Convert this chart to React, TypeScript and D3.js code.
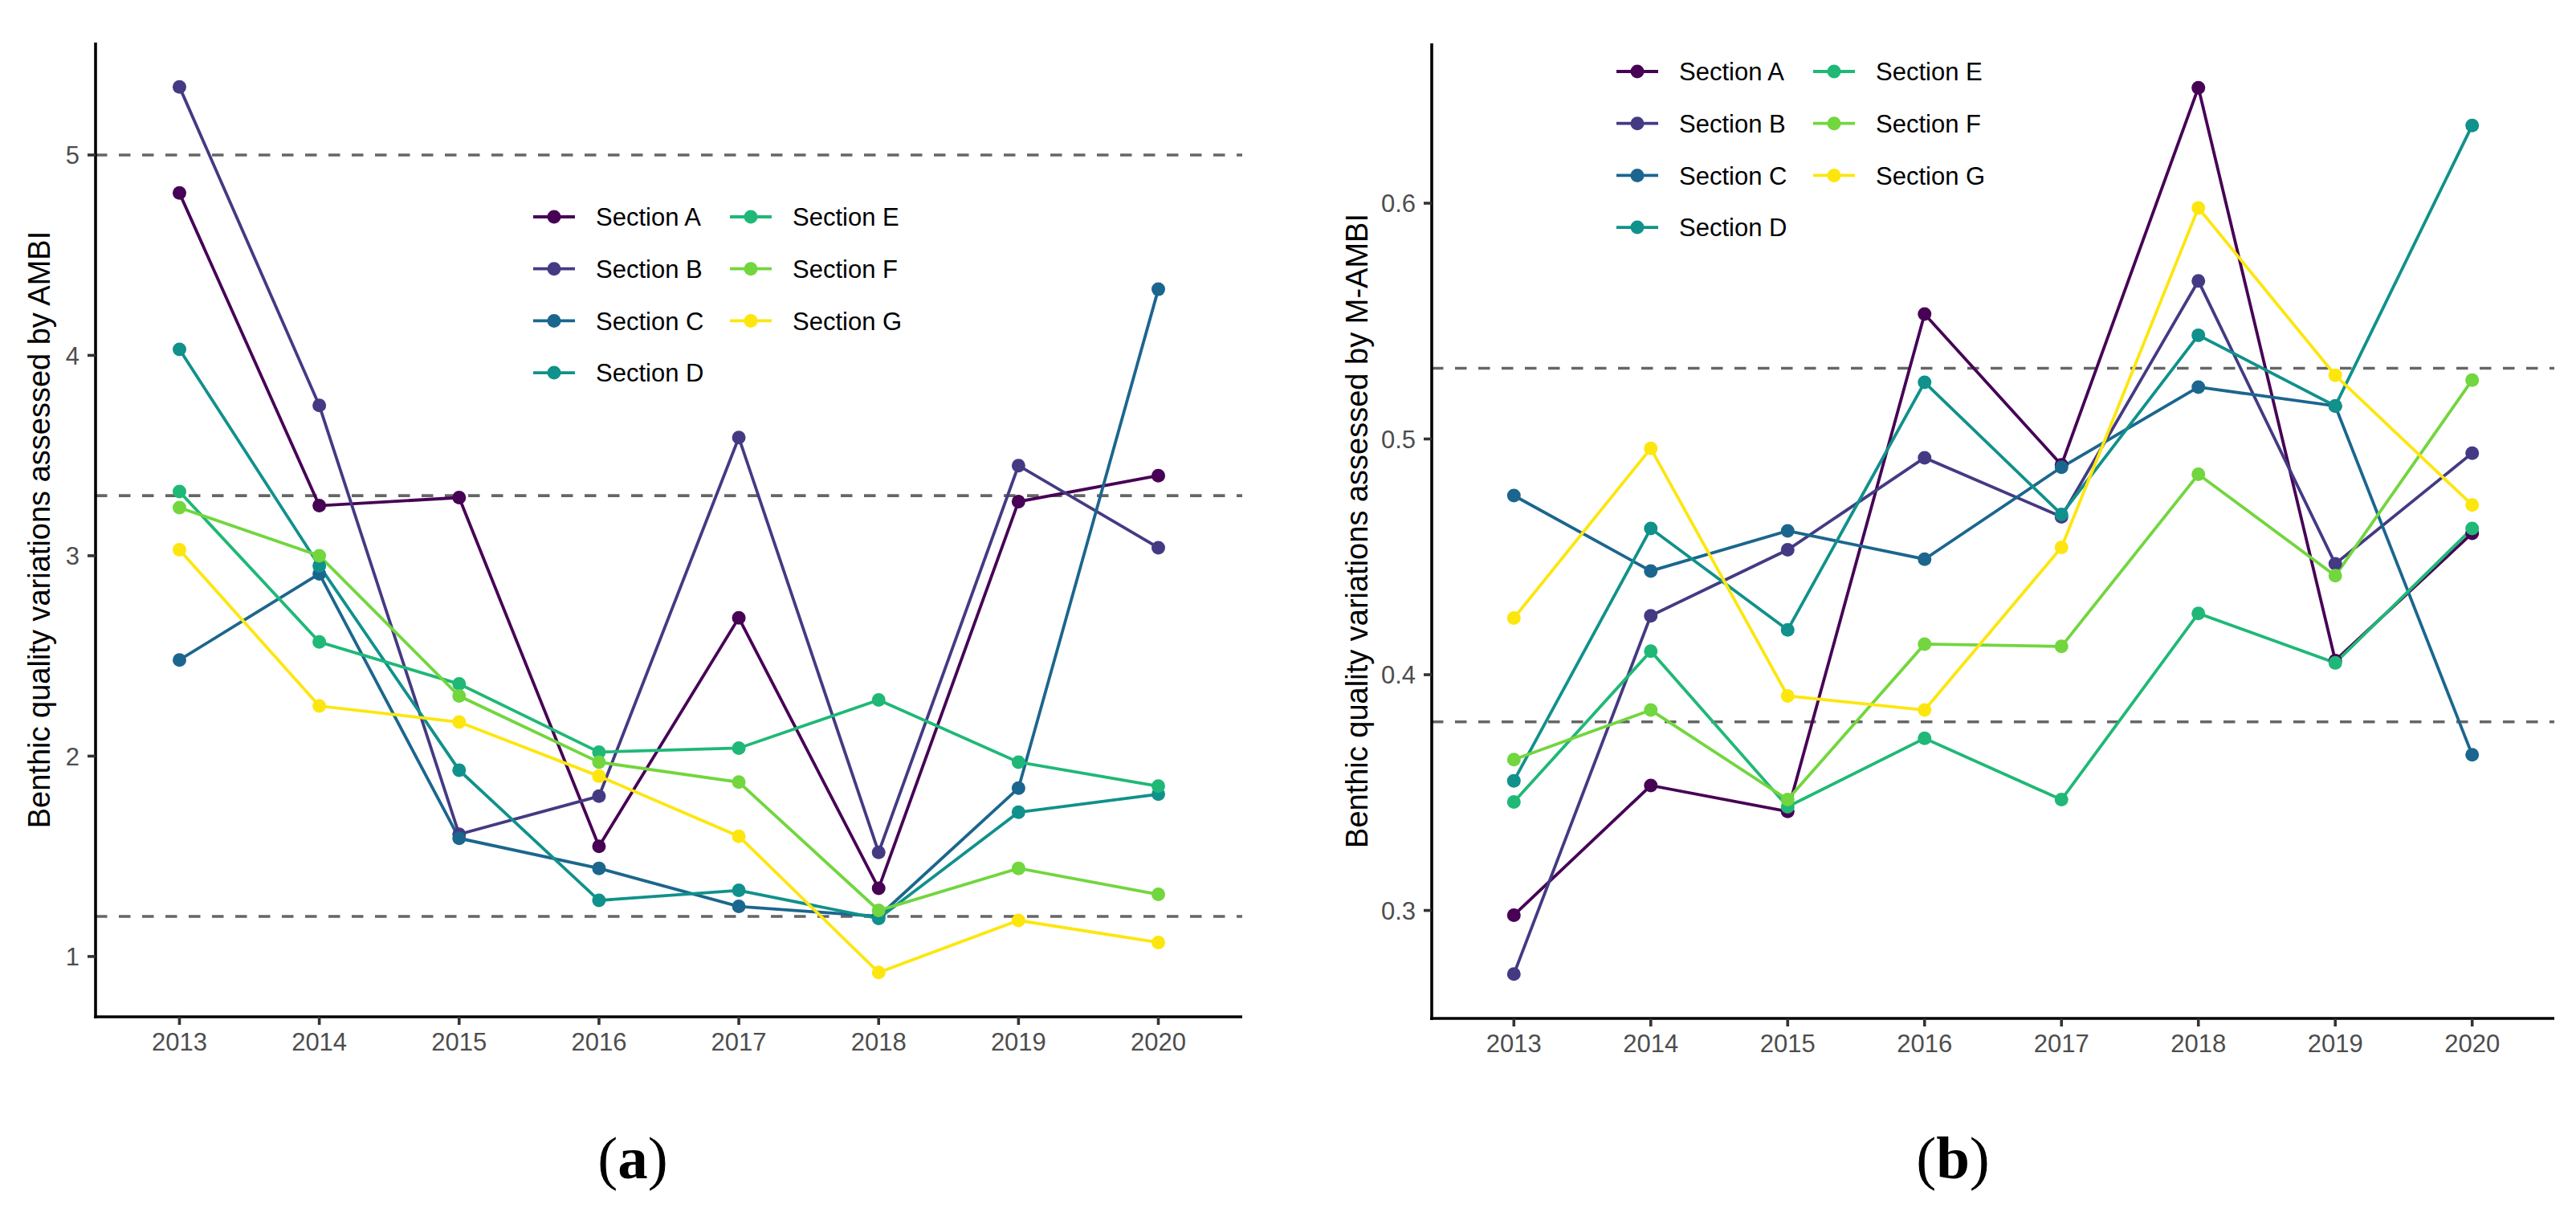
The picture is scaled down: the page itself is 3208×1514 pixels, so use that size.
import React from "react";
import * as d3 from "d3";

const years = ["2013", "2014", "2015", "2016", "2017", "2018", "2019", "2020"];
const sections = ["Section A", "Section B", "Section C", "Section D", "Section E", "Section F", "Section G"];
const sectionColors = ["#470155", "#443a83", "#1b668e", "#10918b", "#1fb877", "#72d63e", "#fde60e"];

// panel (a): AMBI
const ambiA = [4.81, 3.25, 3.29, 1.55, 2.69, 1.34, 3.27, 3.40];
const ambiB = [5.34, 3.75, 1.61, 1.80, 3.59, 1.52, 3.45, 3.04];
const ambiC = [2.48, 2.91, 1.59, 1.44, 1.25, 1.20, 1.84, 4.33];
const ambiD = [4.03, 2.95, 1.93, 1.28, 1.33, 1.19, 1.72, 1.81];
const ambiE = [3.32, 2.57, 2.36, 2.02, 2.04, 2.28, 1.97, 1.85];
const ambiF = [3.24, 3.00, 2.30, 1.97, 1.87, 1.23, 1.44, 1.31];
const ambiG = [3.03, 2.25, 2.17, 1.90, 1.60, 0.92, 1.18, 1.07];
const ambiTicks = [1, 2, 3, 4, 5];
const ambiThresholds = [1.2, 3.3, 5];

// panel (b): M-AMBI
const mambiA = [0.298, 0.353, 0.342, 0.553, 0.489, 0.649, 0.406, 0.460];
const mambiB = [0.273, 0.425, 0.453, 0.492, 0.467, 0.567, 0.447, 0.494];
const mambiC = [0.476, 0.444, 0.461, 0.449, 0.488, 0.522, 0.514, 0.366];
const mambiD = [0.355, 0.462, 0.419, 0.524, 0.468, 0.544, 0.514, 0.633];
const mambiE = [0.346, 0.410, 0.344, 0.373, 0.347, 0.426, 0.405, 0.462];
const mambiF = [0.364, 0.385, 0.347, 0.413, 0.412, 0.485, 0.442, 0.525];
const mambiG = [0.424, 0.496, 0.391, 0.385, 0.454, 0.598, 0.527, 0.472];
const mambiTicks = [0.3, 0.4, 0.5, 0.6];
const mambiThresholds = [0.38, 0.53];

const sans = "'Liberation Sans', Arial, Helvetica, sans-serif";
const serif = "'Liberation Serif', 'Times New Roman', serif";

type PanelProps = {
  left: number; right: number; top: number; bottom: number;
  series: number[][]; ticks: number[]; fmt: (v: number) => string;
  thresholds: number[]; title: string; titleX: number;
  legendX: number; legendY: number; label: string; labelX: number;
};

function Panel(p: PanelProps) {
  const x = d3.scalePoint<string>().domain(years).range([p.left, p.right]).padding(0.6);
  const [lo, hi] = d3.extent(p.series.flat()) as [number, number];
  const pad = (hi - lo) * 0.05;
  const y = d3.scaleLinear().domain([lo - pad, hi + pad]).range([p.bottom, p.top]);
  const line = d3.line<number>().x((_, i) => x(years[i])!).y(d => y(d));
  const rowGap = 64.7;
  const colGap = 245;

  return (
    <g>
      {p.thresholds.map(t => (
        <line key={t} x1={p.left} x2={p.right} y1={y(t)} y2={y(t)}
          stroke="#666" strokeWidth={3.6} strokeDasharray="14.5,14.5" />
      ))}
      {p.series.map((s, i) => (
        <path key={i} d={line(s)!} fill="none" stroke={sectionColors[i]} strokeWidth={3.8} />
      ))}
      {p.series.map((s, i) => s.map((v, j) => (
        <circle key={i + "-" + j} cx={x(years[j])} cy={y(v)} r={8.5} fill={sectionColors[i]} />
      )))}

      {/* axes */}
      <line x1={p.left} x2={p.left} y1={p.top} y2={p.bottom + 2} stroke="#000" strokeWidth={3.6} />
      <line x1={p.left - 2} x2={p.right} y1={p.bottom} y2={p.bottom} stroke="#000" strokeWidth={3.6} />
      {p.ticks.map(t => (
        <g key={t}>
          <line x1={p.left - 10} x2={p.left} y1={y(t)} y2={y(t)} stroke="#333" strokeWidth={3.6} />
          <text x={p.left - 20} y={y(t)} dy="0.36em" textAnchor="end" fontSize={31} fill="#4d4d4d" fontFamily={sans}>
            {p.fmt(t)}
          </text>
        </g>
      ))}
      {years.map(yr => (
        <g key={yr}>
          <line x1={x(yr)} x2={x(yr)} y1={p.bottom} y2={p.bottom + 10} stroke="#333" strokeWidth={3.6} />
          <text x={x(yr)} y={p.bottom + 42} textAnchor="middle" fontSize={31} fill="#4d4d4d" fontFamily={sans}>
            {yr}
          </text>
        </g>
      ))}
      <text transform={`translate(${p.titleX},${(p.top + p.bottom) / 2}) rotate(-90)`} textAnchor="middle"
        fontSize={38} fill="#000" fontFamily={sans}>
        {p.title}
      </text>

      {/* legend */}
      {sections.map((name, i) => {
        const col = i < 4 ? 0 : 1;
        const row = i < 4 ? i : i - 4;
        const cx = p.legendX + col * colGap;
        const cy = p.legendY + row * rowGap;
        return (
          <g key={name}>
            <line x1={cx - 26} x2={cx + 26} y1={cy} y2={cy} stroke={sectionColors[i]} strokeWidth={3.8} />
            <circle cx={cx} cy={cy} r={8.5} fill={sectionColors[i]} />
            <text x={cx + 52} y={cy} dy="0.36em" fontSize={31} fill="#000" fontFamily={sans}>{name}</text>
          </g>
        );
      })}

      <text x={p.labelX} y={1467} textAnchor="middle" fontSize={75} fontFamily={serif} fill="#000">
        (<tspan fontWeight="bold">{p.label}</tspan>)
      </text>
    </g>
  );
}

export default function App() {
  return (
    <div style={{ position: "absolute", left: 0, top: 0 }}>
      <svg width={3208} height={1514} viewBox="0 0 3208 1514" style={{ display: "block", background: "#fff" }}>
        <rect width={3208} height={1514} fill="#fff" />
        <Panel left={119} right={1547} top={53} bottom={1266}
          series={[ambiA, ambiB, ambiC, ambiD, ambiE, ambiF, ambiG]}
          ticks={ambiTicks} fmt={d3.format("d")} thresholds={ambiThresholds}
          title="Benthic quality variations assessed by AMBI" titleX={62}
          legendX={690} legendY={270} label="a" labelX={788} />
        <Panel left={1783} right={3181} top={54} bottom={1268}
          series={[mambiA, mambiB, mambiC, mambiD, mambiE, mambiF, mambiG]}
          ticks={mambiTicks} fmt={d3.format(".1f")} thresholds={mambiThresholds}
          title="Benthic quality variations assessed by M-AMBI" titleX={1703}
          legendX={2039} legendY={89} label="b" labelX={2432} />
      </svg>
    </div>
  );
}
